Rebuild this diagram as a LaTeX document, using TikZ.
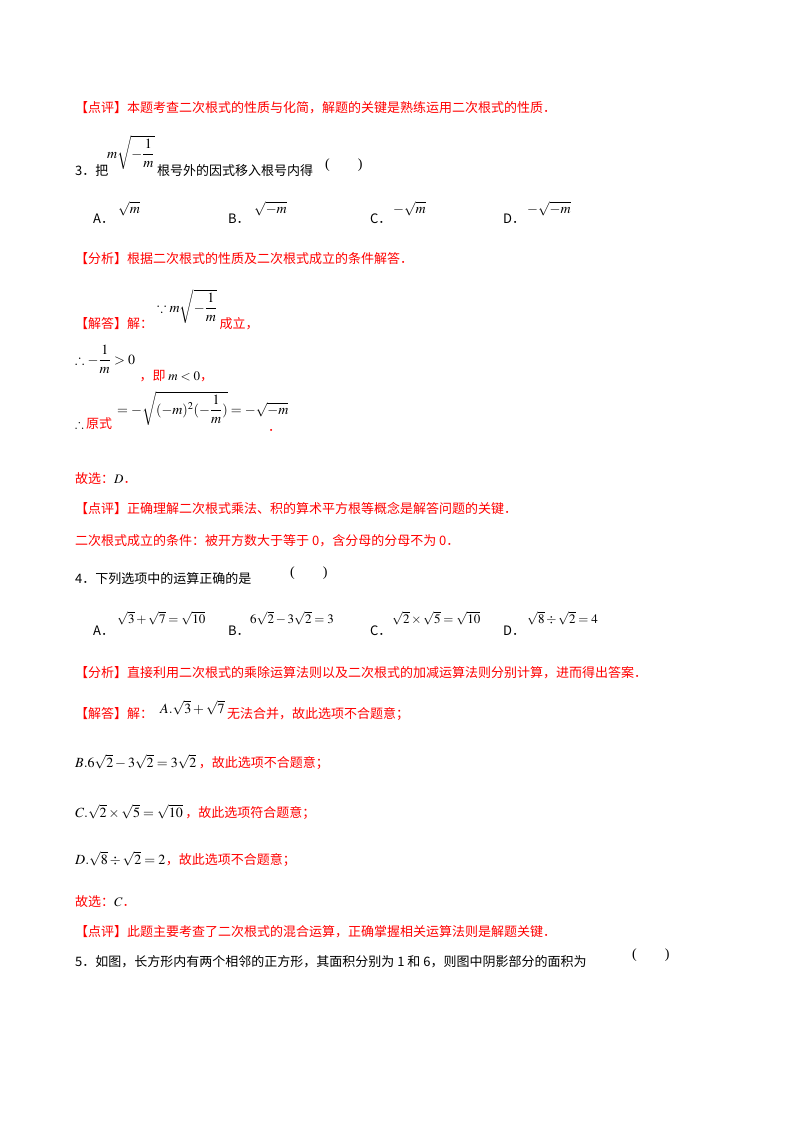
\RequirePackage{fix-cm}
\documentclass[tikz,border=0pt]{standalone}
\usepackage{amsmath,amssymb}
\usepackage{mathptmx}
\usepackage{fontspec}
\setmainfont{Liberation Serif}
\newfontfamily\cjk{Noto Sans CJK SC}
\definecolor{rd}{HTML}{FF0000}
\begin{document}
\begin{tikzpicture}[x=1pt,y=1pt,
  t/.style={anchor=base west,inner sep=0pt,font=\fontsize{13}{15}\selectfont\cjk},
  r/.style={t,text=rd},
  m/.style={anchor=base west,inner sep=0pt,font=\fontsize{14}{16}\selectfont},
  ms/.style={m,font=\fontsize{13}{15}\selectfont}]
\useasboundingbox[fill=white] (0,0) rectangle (800,-1132);
\node[r] (l1) at (75,-112) {【点评】本题考查二次根式的性质与化简，解题的关键是熟练运用二次根式的性质．};
\node[t] (q3) at (75,-175) {3．把};
\node[m] (q3m) at (107,-158) {$m\sqrt{-\dfrac{1}{m}}$};
\node[t] (q3b) at (157,-175) {根号外的因式移入根号内得};
\node[m] (q3p) at (325,-168) {(\hspace{28pt})};
\node[t] (a3) at (93,-223) {A．};
\node[m] (a3m) at (118,-213) {$\sqrt{m}$};
\node[t] (b3) at (228,-223) {B．};
\node[m] (b3m) at (254,-213) {$\sqrt{-m}$};
\node[t] (c3) at (370,-223) {C．};
\node[m] (c3m) at (393,-213) {$-\sqrt{m}$};
\node[t] (d3) at (503,-223) {D．};
\node[m] (d3m) at (527,-213) {$-\sqrt{-m}$};
\node[r] (f3) at (75,-263) {【分析】根据二次根式的性质及二次根式成立的条件解答．};
\node[r] (j3) at (75,-328) {【解答】解：};
\node[m] (j3m) at (157,-312) {$\because m\sqrt{-\dfrac{1}{m}}$};
\node[r] (j3b) at ([xshift=2pt]j3m.east |- 0,-328) {成立，};
\node[m] (s1) at (75,-364) {$\therefore -\dfrac{1}{m}>0$};
\node[r] (s1b) at ([xshift=4pt]s1.east |- 0,-380) {，即 \textcolor{black}{$m<0$}，};
\node[t] (s2a) at (75,-428) {$\therefore$};
\node[r] (s2) at (86,-428) {原式};
\node[m] (s2m) at (117,-414) {$=-\sqrt{(-m)^2(-\dfrac{1}{m})}=-\sqrt{-m}$};
\node[r] (s2d) at (268,-431) {．};
\node[r] (g3) at (75,-483) {故选：\textcolor{black}{$D$}．};
\node[r] (p3) at (75,-513) {【点评】正确理解二次根式乘法、积的算术平方根等概念是解答问题的关键．};
\node[r] (p3b) at (75,-545) {二次根式成立的条件：被开方数大于等于 0，含分母的分母不为 0．};
\node[t] (q4) at (75,-583) {4．下列选项中的运算正确的是};
\node[m] (q4p) at (290,-576) {(\hspace{28pt})};
\node[t] (a4) at (93,-635) {A．};
\node[ms] (a4m) at (117,-623) {$\sqrt{3}+\sqrt{7}=\sqrt{10}$};
\node[t] (b4) at (228,-635) {B．};
\node[ms] (b4m) at (250,-623) {$6\sqrt{2}-3\sqrt{2}=3$};
\node[t] (c4) at (370,-635) {C．};
\node[ms] (c4m) at (392,-623) {$\sqrt{2}\times\sqrt{5}=\sqrt{10}$};
\node[t] (d4) at (503,-635) {D．};
\node[ms] (d4m) at (527,-623) {$\sqrt{8}\div\sqrt{2}=4$};
\node[r] (f4) at (75,-677) {【分析】直接利用二次根式的乘除运算法则以及二次根式的加减运算法则分别计算，进而得出答案．};
\node[r] (j4) at (75,-718) {【解答】解：};
\node[m] (j4m) at (160,-713) {$A.\sqrt{3}+\sqrt{7}$};
\node[r] (j4b) at ([xshift=2pt]j4m.east |- 0,-718) {无法合并，故此选项不合题意；};
\node[m] (b5m) at (75,-767) {$B.6\sqrt{2}-3\sqrt{2}=3\sqrt{2}$};
\node[r] (b5) at ([xshift=2pt]b5m.base east) {，故此选项不合题意；};
\node[m] (c5m) at (75,-817) {$C.\sqrt{2}\times\sqrt{5}=\sqrt{10}$};
\node[r] (c5) at ([xshift=2pt]c5m.base east) {，故此选项符合题意；};
\node[m] (d5m) at (75,-864) {$D.\sqrt{8}\div\sqrt{2}=2$};
\node[r] (d5) at (d5m.base east) {，故此选项不合题意；};
\node[r] (g4) at (75,-906) {故选：\textcolor{black}{$C$}．};
\node[r] (p4) at (75,-936) {【点评】此题主要考查了二次根式的混合运算，正确掌握相关运算法则是解题关键．};
\node[t] (q5) at (75,-966) {5．如图，长方形内有两个相邻的正方形，其面积分别为 1 和 6，则图中阴影部分的面积为};
\node[m] (q5p) at (632,-958) {(\hspace{28pt})};
\end{tikzpicture}
\end{document}
